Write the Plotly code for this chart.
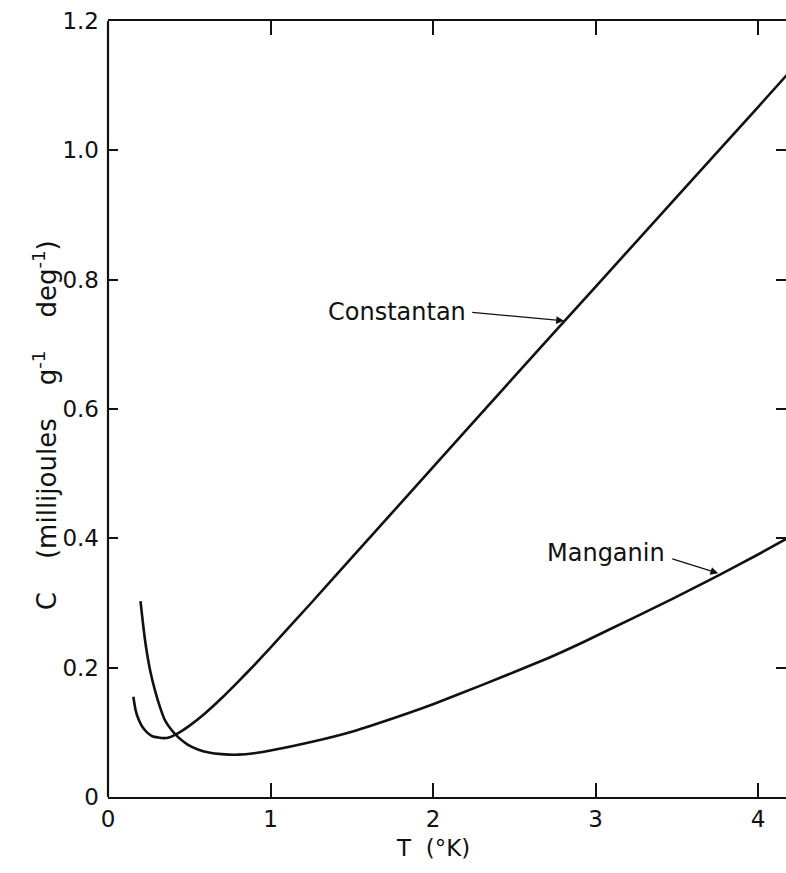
import plotly.graph_objects as go

# Specific heat of two resistance alloys at liquid-helium temperatures
constantan_T = [0.156, 0.17, 0.19, 0.21, 0.24, 0.273, 0.31, 0.345, 0.38, 0.412, 0.45, 0.5,
                0.6, 0.7, 0.8, 0.9, 1.0, 1.25, 1.5, 2.0, 2.5, 3.0, 3.5, 4.0, 4.2]
constantan_C = [0.155, 0.134, 0.119, 0.109, 0.100, 0.094, 0.092, 0.091, 0.0925, 0.096, 0.1015, 0.110,
                0.130, 0.153, 0.178, 0.204, 0.231, 0.300, 0.370, 0.510, 0.650, 0.789, 0.928, 1.067, 1.123]

manganin_T = [0.20, 0.21, 0.222, 0.237, 0.26, 0.289, 0.32, 0.35, 0.39, 0.43, 0.49, 0.553,
              0.62, 0.70, 0.80, 0.9, 1.0, 1.25, 1.5, 1.85, 2.0, 2.3, 2.71, 2.92, 3.25, 3.47,
              3.76, 4.0, 4.2]
manganin_C = [0.303, 0.280, 0.254, 0.227, 0.195, 0.165, 0.139, 0.119, 0.104, 0.093, 0.081, 0.0735,
              0.0688, 0.0663, 0.0655, 0.0676, 0.0718, 0.085, 0.101, 0.130, 0.1435, 0.173, 0.215, 0.239,
              0.279, 0.306, 0.343, 0.375, 0.403]

x_ticks = [0, 1, 2, 3, 4]
x_labels = ["0", "1", "2", "3", "4"]
y_ticks = [0, 0.2, 0.4, 0.6, 0.8, 1.0, 1.2]
y_labels = ["0", "0.2", "0.4", "0.6", "0.8", "1.0", "1.2"]

FONT = "DejaVu Sans"
INK = "#111111"

fig = go.Figure()
fig.add_trace(go.Scatter(x=constantan_T, y=constantan_C, mode="lines",
                         line=dict(color=INK, width=2.6, shape="spline", smoothing=0.5),
                         name="Constantan", showlegend=False))
fig.add_trace(go.Scatter(x=manganin_T, y=manganin_C, mode="lines",
                         line=dict(color=INK, width=2.6, shape="spline", smoothing=0.5),
                         name="Manganin", showlegend=False))

fig.update_layout(
    width=786, height=873,
    margin=dict(l=108, r=0, t=21, b=76),
    paper_bgcolor="white", plot_bgcolor="white",
    font=dict(family=FONT, size=22, color=INK),
    xaxis=dict(range=[0, 4.172], tickvals=x_ticks, ticktext=x_labels,
               ticks="inside", ticklen=14, tickwidth=1.6, tickcolor=INK,
               showline=True, linewidth=2.2, linecolor=INK, mirror="ticks",
               showgrid=False, zeroline=False, tickfont=dict(size=23),
               ticklabelstandoff=0),
    yaxis=dict(range=[0, 1.2], tickvals=y_ticks, ticktext=y_labels,
               ticks="inside", ticklen=10, tickwidth=1.6, tickcolor=INK,
               showline=False, mirror="ticks",
               showgrid=False, zeroline=False, tickfont=dict(size=23),
               ticklabelstandoff=8),
    shapes=[dict(type="line", xref="paper", yref="paper", x0=0, x1=0, y0=0, y1=1,
                 line=dict(color=INK, width=2.2))],
)

# Axis titles
fig.add_annotation(xref="x", yref="paper", x=2.0, y=-0.0657, xanchor="center", yanchor="middle",
                   showarrow=False, text="T  (°K)", font=dict(size=23))
fig.add_annotation(xref="paper", yref="paper", x=-0.093, y=0.479, xanchor="center",
                   yanchor="middle", showarrow=False, textangle=-90,
                   text="C    (millijoules    g<sup>-1</sup>    deg<sup>-1</sup>)",
                   font=dict(size=26))

# Curve labels with leader arrows
fig.add_annotation(x=2.215, y=0.750, xanchor="right", yanchor="middle", showarrow=False,
                   text="Constantan", font=dict(size=24))
fig.add_annotation(x=2.806, y=0.7365, ax=2.232, ay=0.7495, axref="x", ayref="y",
                   text="", showarrow=True, arrowhead=2, arrowsize=1.2, arrowwidth=1.3,
                   arrowcolor=INK)
fig.add_annotation(x=3.44, y=0.377, xanchor="right", yanchor="middle", showarrow=False,
                   text="Manganin", font=dict(size=24))
fig.add_annotation(x=3.755, y=0.346, ax=3.463, ay=0.369, axref="x", ayref="y",
                   text="", showarrow=True, arrowhead=2, arrowsize=1.2, arrowwidth=1.3,
                   arrowcolor=INK)

fig.write_html("out.html")
